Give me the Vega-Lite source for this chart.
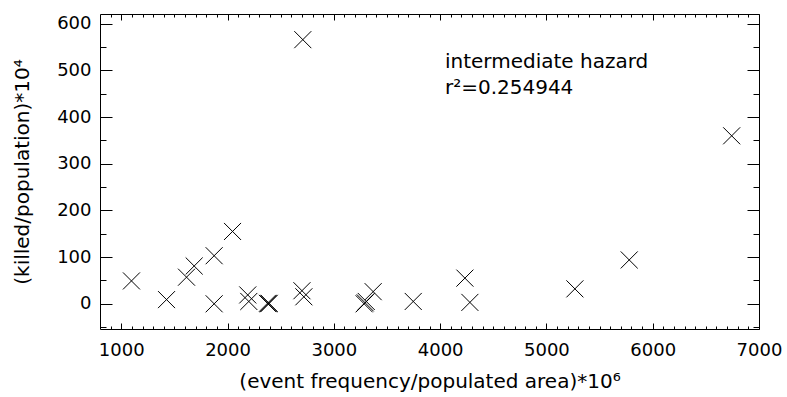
{
  "$schema": "https://vega.github.io/schema/vega-lite/v6.json",
  "width": 659,
  "height": 315,
  "autosize": "none",
  "padding": {"left": 100, "top": 14, "right": 28, "bottom": 68},
  "background": "white",
  "config": {
    "view": {"stroke": "black", "strokeWidth": 1},
    "font": "DejaVu Sans",
    "axis": {"domain": false, "grid": false, "tickColor": "black", "tickWidth": 1}
  },
  "datasets": {
    "points": [
      {"x": 1096, "y": 49},
      {"x": 1426, "y": 9},
      {"x": 1614, "y": 57},
      {"x": 1686, "y": 81},
      {"x": 1874, "y": 103},
      {"x": 1874, "y": 0},
      {"x": 2047, "y": 155},
      {"x": 2190, "y": 19},
      {"x": 2200, "y": 5},
      {"x": 2375, "y": 1},
      {"x": 2385, "y": 0},
      {"x": 2392, "y": 1},
      {"x": 2700, "y": 28},
      {"x": 2718, "y": 15},
      {"x": 2708, "y": 566},
      {"x": 3285, "y": 0},
      {"x": 3295, "y": 2},
      {"x": 3305, "y": 5},
      {"x": 3370, "y": 26},
      {"x": 3747, "y": 5},
      {"x": 4233, "y": 55},
      {"x": 4280, "y": 3},
      {"x": 5268, "y": 32},
      {"x": 5779, "y": 94},
      {"x": 6743, "y": 360}
    ],
    "notes": [
      {"label": "intermediate hazard", "x": 4045, "y": 506},
      {"label": "r²=0.254944", "x": 4045, "y": 449}
    ]
  },
  "resolve": {"axis": {"x": "independent", "y": "independent"}},
  "layer": [
    {
      "data": {"name": "points"},
      "mark": {"type": "point", "shape": "M-1,-1L1,1M-1,1L1,-1", "size": 290, "stroke": "black", "strokeWidth": 1, "filled": false, "opacity": 1},
      "encoding": {
        "x": {"field": "x", "type": "quantitative",
          "scale": {"domain": [800, 7000], "nice": false, "zero": false},
          "axis": {
            "orient": "bottom",
            "values": [1000, 2000, 3000, 4000, 5000, 6000, 7000],
            "format": "d",
            "labelOverlap": false,
            "labelFlush": false,
            "tickSize": -6,
            "labelFont": "DejaVu Sans",
            "labelFontSize": 18,
            "labelColor": "black",
            "labelPadding": 18,
            "title": "(event frequency/populated area)*10⁶",
            "titleFont": "DejaVu Sans",
            "titleFontSize": 20,
            "titleFontWeight": "normal",
            "titleColor": "black",
            "titlePadding": 12
          }
        },
        "y": {"field": "y", "type": "quantitative",
          "scale": {"domain": [-54, 621], "nice": false, "zero": false},
          "axis": {
            "orient": "left",
            "values": [0, 100, 200, 300, 400, 500, 600],
            "format": "d",
            "labelOverlap": false,
            "labelFlush": false,
            "tickSize": -12,
            "labelFont": "DejaVu Sans",
            "labelFontSize": 18,
            "labelColor": "black",
            "labelPadding": 21,
            "title": "(killed/population)*10⁴",
            "titleFont": "DejaVu Sans",
            "titleFontSize": 20,
            "titleFontWeight": "normal",
            "titleColor": "black",
            "titlePadding": 24
          }
        }
      }
    },
    {
      "data": {"name": "notes"},
      "mark": {"type": "text", "align": "left", "baseline": "alphabetic", "font": "DejaVu Sans", "fontSize": 20, "color": "black"},
      "encoding": {
        "text": {"field": "label"},
        "x": {"field": "x", "type": "quantitative",
          "axis": {
            "orient": "bottom",
            "values": [900,1100,1200,1300,1400,1500,1600,1700,1800,1900,2100,2200,2300,2400,2500,2600,2700,2800,2900,3100,3200,3300,3400,3500,3600,3700,3800,3900,4100,4200,4300,4400,4500,4600,4700,4800,4900,5100,5200,5300,5400,5500,5600,5700,5800,5900,6100,6200,6300,6400,6500,6600,6700,6800,6900],
            "labels": false,
            "title": null,
            "tickSize": -3
          }
        },
        "y": {"field": "y", "type": "quantitative",
          "axis": {
            "orient": "left",
            "values": [-50, 50, 150, 250, 350, 450, 550],
            "labels": false,
            "title": null,
            "tickSize": -6
          }
        }
      }
    },
    {
      "data": {"name": "points"},
      "mark": {"type": "point", "opacity": 0},
      "encoding": {
        "x": {"field": "x", "type": "quantitative",
          "axis": {
            "orient": "top",
            "values": [1000, 2000, 3000, 4000, 5000, 6000, 7000],
            "labels": false,
            "title": null,
            "tickSize": -6
          }
        },
        "y": {"field": "y", "type": "quantitative",
          "axis": {
            "orient": "right",
            "values": [0, 100, 200, 300, 400, 500, 600],
            "labels": false,
            "title": null,
            "tickSize": -12
          }
        }
      }
    },
    {
      "data": {"name": "points"},
      "mark": {"type": "point", "opacity": 0},
      "encoding": {
        "x": {"field": "x", "type": "quantitative",
          "axis": {
            "orient": "top",
            "values": [900,1100,1200,1300,1400,1500,1600,1700,1800,1900,2100,2200,2300,2400,2500,2600,2700,2800,2900,3100,3200,3300,3400,3500,3600,3700,3800,3900,4100,4200,4300,4400,4500,4600,4700,4800,4900,5100,5200,5300,5400,5500,5600,5700,5800,5900,6100,6200,6300,6400,6500,6600,6700,6800,6900],
            "labels": false,
            "title": null,
            "tickSize": -3
          }
        },
        "y": {"field": "y", "type": "quantitative",
          "axis": {
            "orient": "right",
            "values": [-50, 50, 150, 250, 350, 450, 550],
            "labels": false,
            "title": null,
            "tickSize": -6
          }
        }
      }
    }
  ]
}
